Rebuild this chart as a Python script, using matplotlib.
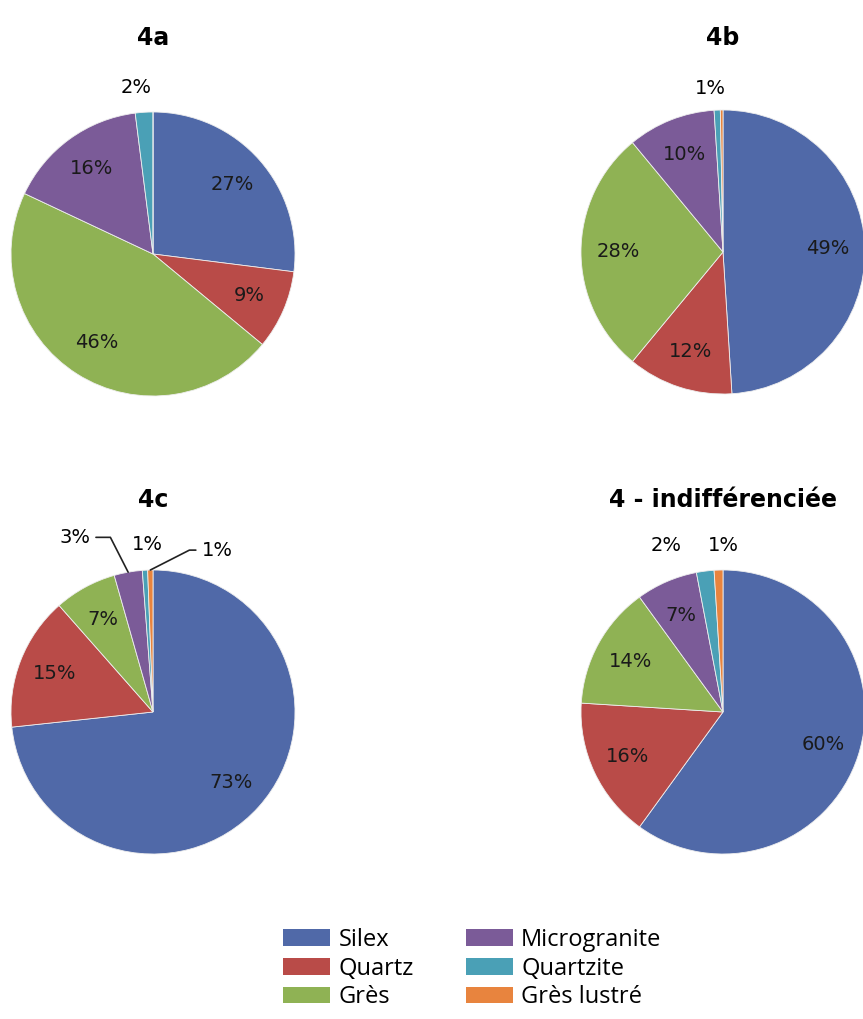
import numpy as np
import matplotlib.pyplot as plt
from matplotlib.patches import Patch

# Data ----------------------------------------------------------------------
categories = ['Silex', 'Quartz', 'Grès', 'Microgranite', 'Quartzite', 'Grès lustré']
colors = ['#5069a8', '#b94b48', '#8fb254', '#7b5b98', '#4aa0b6', '#e8843e']

pct_4a = [27, 9, 46, 16, 2, 0]
pct_4b = [49, 12, 28, 10, 0.7, 0.3]
pct_4c = [73.3, 15.2, 7.1, 3.2, 0.6, 0.6]
pct_4ind = [60, 16, 14, 7, 2, 1]

titles = ['4a', '4b', '4c', '4 - indifférenciée']
series = [pct_4a, pct_4b, pct_4c, pct_4ind]

# Layout (pixels) -----------------------------------------------------------
W, H = 863, 1019
R = 142
centres = [(153, 254), (723, 252), (153, 712), (723, 712)]
title_y = [38, 38, 500, 500]
# labels put outside the pie: index -> (x, y in radii, leader line)
outer = [
    {4: (-0.12, 1.17, False)},
    {4: (-0.09, 1.15, False)},
    {3: (-0.55, 1.23, True), 4: (-0.04, 1.18, False), 5: (0.45, 1.14, True)},
    {4: (-0.40, 1.17, False), 5: (0.0, 1.17, False)},
]
leader_angle = {3: 117, 5: 27}

fig = plt.figure(figsize=(W / 100, H / 100), dpi=100)

for k, vals in enumerate(series):
    cx, cy = centres[k]
    ax = fig.add_axes([(cx - R) / W, 1 - (cy + R) / H, 2 * R / W, 2 * R / H])
    wedges, _ = ax.pie(vals, colors=colors, startangle=90, counterclock=False,
                       radius=1, wedgeprops=dict(edgecolor='#eeeeee', linewidth=0.6))
    ax.set_xlim(-1, 1)
    ax.set_ylim(-1, 1)
    ax.set_aspect('equal')
    ax.axis('off')

    for i, w in enumerate(wedges):
        if vals[i] < 0.5:
            continue
        lab = f'{round(vals[i])}%'
        th = np.deg2rad((w.theta1 + w.theta2) / 2)
        if i in outer[k]:
            tx, ty, lead = outer[k][i]
            if lead:
                ax.annotate(lab, xy=(np.cos(th), np.sin(th)), xytext=(tx, ty),
                            ha='center', va='center', fontsize=14,
                            arrowprops=dict(arrowstyle='-', color='#222222', lw=1.2,
                                            shrinkA=2, shrinkB=0,
                                            connectionstyle=f'angle,angleA=0,angleB={leader_angle[i]},rad=0'),
                            annotation_clip=False)
            else:
                ax.text(tx, ty, lab, ha='center', va='center', fontsize=14)
        else:
            d = 0.74
            ax.text(d * np.cos(th), d * np.sin(th), lab, ha='center', va='center',
                    fontsize=14, color='#1a1a1a')

    fig.text(cx / W, 1 - title_y[k] / H, titles[k], ha='center', va='center',
             fontsize=17, fontweight='bold')

handles = [Patch(facecolor=c, edgecolor='none') for c in colors]
fig.legend(handles, categories, ncol=2, loc='upper left',
           bbox_to_anchor=(283 / W, 1 - 928 / H), frameon=False,
           borderpad=0, borderaxespad=0, handlelength=2.0, handleheight=0.7,
           handletextpad=0.35, columnspacing=2.2, labelspacing=0.2,
           prop={'family': 'Open Sans', 'size': 17})

fig.savefig('out.png', dpi=100)
